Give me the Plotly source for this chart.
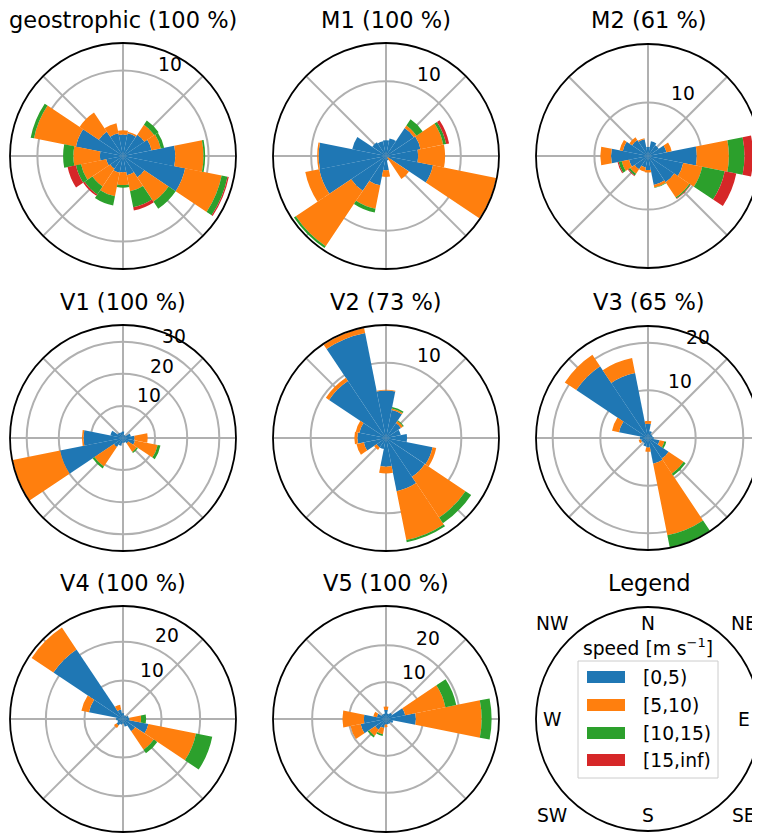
import math
import plotly.graph_objects as go

# ---------------- data ----------------
directions = ["N", "NNE", "NE", "ENE", "E", "ESE", "SE", "SSE",
              "S", "SSW", "SW", "WSW", "W", "WNW", "NW", "NNW"]
direction_deg = [0, 22.5, 45, 67.5, 90, 112.5, 135, 157.5,
                 180, 202.5, 225, 247.5, 270, 292.5, 315, 337.5]

speed_bins = ["[0,5)", "[5,10)", "[10,15)", "[15,inf)"]
bin_colors = ["#1f77b4", "#ff7f0e", "#2ca02c", "#d62728"]

# frequency (%) per direction sector, one list per speed class
geostrophic_0_5 = [2.5, 2.7, 3.0, 3.4, 6.1, 7.4, 3.0, 2.3, 1.9, 2.0, 1.8, 2.0, 2.7, 5.6, 3.4, 2.7]
geostrophic_5_10 = [0.5, 0.2, 1.4, 1.1, 3.3, 4.35, 3.4, 1.9, 1.5, 2.8, 2.5, 3.0, 3.1, 5.0, 2.7, 1.2]
geostrophic_10_15 = [0, 0, 0.6, 0.4, 0.2, 0.7, 1.0, 1.9, 0.3, 1.1, 1.1, 0.6, 1.2, 0.4, 0, 0]
geostrophic_15_inf = [0, 0, 0, 0, 0, 0.15, 0, 0.4, 0, 0, 0.2, 1.0, 0, 0, 0, 0]

m1_0_5 = [2.1, 2.4, 4.5, 4.7, 4.3, 6.4, 0.3, 0.6, 1.9, 4.0, 5.6, 9.1, 9.0, 4.6, 2.2, 2.0]
m1_5_10 = [0, 0, 0.4, 3.1, 3.6, 8.6, 3.4, 0, 0.9, 3.2, 8.9, 1.9, 0.2, 0, 0, 0]
m1_10_15 = [0, 0, 1.0, 0.4, 0, 0, 0, 0, 0, 0.5, 0.3, 0, 0, 0, 0, 0]
m1_15_inf = [0, 0, 0, 0.4, 0, 0, 0, 0, 0, 0, 0, 0, 0, 0, 0, 0]

m2_0_5 = [1.7, 2.8, 2.4, 3.5, 9.1, 6.7, 5.9, 5.5, 2.6, 2.2, 3.0, 3.6, 6.9, 4.8, 3.6, 3.2]
m2_5_10 = [0, 0, 0, 1.0, 6.0, 3.6, 3.4, 0.5, 0.5, 0.8, 1.0, 1.4, 2.0, 0.6, 0.6, 0.2]
m2_10_15 = [0, 0, 0, 0, 2.9, 4.3, 0.25, 0.1, 0, 0, 0.4, 0.6, 0, 0, 0, 0]
m2_15_inf = [0, 0, 0, 0, 1.6, 2.2, 0.1, 0, 0, 0, 0.15, 0.2, 0, 0, 0, 0]

v1_0_5 = [2.0, 1.0, 1.0, 2.5, 3.6, 3.8, 2.0, 1.5, 1.5, 2.5, 3.4, 20.0, 12.3, 4.0, 2.0, 1.8]
v1_5_10 = [0, 0, 0, 0, 4.1, 7.2, 3.2, 0, 0, 0, 7.3, 15.0, 0.5, 0, 0, 0]
v1_10_15 = [0, 0, 0, 0, 0, 0.9, 0.4, 0, 0, 0, 0.7, 0, 0, 0, 0, 0]
v1_15_inf = [0] * 16

v2_0_5 = [6.3, 3.8, 2.4, 2.0, 2.8, 6.3, 6.2, 7.2, 3.8, 1.5, 1.5, 3.0, 3.8, 3.6, 9.1, 14.2]
v2_5_10 = [0.1, 0.2, 0.3, 0, 0, 0.5, 6.5, 6.6, 0.9, 0, 0.4, 1.0, 0.4, 0.5, 0.5, 0.7]
v2_10_15 = [0, 0.2, 0.15, 0, 0, 0, 0.9, 0.3, 0, 0, 0, 0, 0, 0, 0, 0]
v2_15_inf = [0] * 16

v3_0_5 = [3.0, 1.5, 1.0, 1.0, 1.2, 2.5, 5.2, 5.5, 2.0, 1.8, 1.3, 1.5, 1.7, 6.2, 18.1, 13.9]
v3_5_10 = [0.6, 0, 0, 0, 0, 1.0, 3.8, 15.3, 0.9, 0, 0, 0.5, 0, 1.5, 2.9, 3.2]
v3_10_15 = [0, 0, 0, 0, 0, 0.4, 0.5, 2.6, 0, 0, 0, 0, 0, 0, 0, 0]
v3_15_inf = [0] * 16

v4_0_5 = [1.5, 1.0, 1.0, 1.5, 1.7, 6.7, 3.8, 2.0, 1.2, 1.5, 2.0, 1.5, 1.8, 9.0, 21.7, 2.5]
v4_5_10 = [0, 0, 0, 0, 3.0, 12.6, 5.8, 0, 0, 0, 0.8, 0, 0, 2.0, 6.8, 1.3]
v4_10_15 = [0, 0, 0, 0, 1.3, 4.3, 1.1, 0, 0, 0, 0, 0, 0, 0, 0, 0]
v4_15_inf = [0] * 16

v5_0_5 = [2.5, 1.5, 2.0, 5.3, 8.1, 2.0, 1.5, 1.5, 1.5, 2.5, 3.5, 7.0, 6.0, 2.5, 1.5, 1.5]
v5_5_10 = [0.9, 0, 0, 11.1, 17.8, 0, 0, 0, 0.7, 1.7, 2.0, 2.8, 5.8, 1.0, 0, 0]
v5_10_15 = [0, 0, 0, 3.0, 2.7, 0, 0, 0, 0, 0.5, 0.5, 0, 0, 0, 0, 0]
v5_15_inf = [0] * 16

rose_names = ["geostrophic", "M1", "M2", "V1", "V2", "V3", "V4", "V5"]
availability = [100, 100, 61, 100, 73, 65, 100, 100]
rose_bins = [
    [geostrophic_0_5, geostrophic_5_10, geostrophic_10_15, geostrophic_15_inf],
    [m1_0_5, m1_5_10, m1_10_15, m1_15_inf],
    [m2_0_5, m2_5_10, m2_10_15, m2_15_inf],
    [v1_0_5, v1_5_10, v1_10_15, v1_15_inf],
    [v2_0_5, v2_5_10, v2_10_15, v2_15_inf],
    [v3_0_5, v3_5_10, v3_10_15, v3_15_inf],
    [v4_0_5, v4_5_10, v4_10_15, v4_15_inf],
    [v5_0_5, v5_5_10, v5_10_15, v5_15_inf],
]
radial_max = [13.2, 15.1, 20.9, 35.2, 15.0, 23.5, 29.3, 30.6]
radial_ticks = [[10], [10], [10], [10, 20, 30], [10], [10, 20], [10, 20], [10, 20]]
rlabel_deg = 22.5  # compass angle at which radial tick labels sit

compass_labels = ["N", "NE", "E", "SE", "S", "SW", "W", "NW"]

# ---------------- layout geometry (page pixels) ----------------
PAGE_W, PAGE_H = 760, 834
OFF = 8                       # browser body margin around the figure div
W, H = PAGE_W - OFF, PAGE_H - OFF
col_cx = [123, 386, 649]
row_cy = [156, 438, 719]
R = 113
FONT = "DejaVu Sans"


def px(x):
    return (x - OFF) / W


def py(y):
    return 1 - (y - OFF) / H


fig = go.Figure()
layout = dict(
    width=W, height=H,
    margin=dict(l=0, r=0, t=0, b=0),
    paper_bgcolor="white",
    plot_bgcolor="white",
    showlegend=False,
    font=dict(family=FONT, color="black"),
)
annotations = []
shapes = []
centres = []

for i in range(9):
    row, col = divmod(i, 3)
    cx, cy = col_cx[col], row_cy[row]
    key = "polar" if i == 0 else f"polar{i + 1}"
    x0, x1 = px(cx - R), px(cx + R)
    if x1 > 1:
        x1 = 1.0
    # real centre / radius as plotly fits the circle in the domain
    dom_w = (x1 - x0) * W
    rad = min(dom_w, 2 * R) / 2
    ccx = OFF + (x0 * W + x1 * W) / 2
    centres.append((ccx, cy, rad))
    dom_y = [py(cy + R), py(cy - R)]
    if i < 8:
        for b in range(4):
            fig.add_trace(go.Barpolar(
                r=rose_bins[i][b], theta=direction_deg, width=22.5,
                marker=dict(color=bin_colors[b], line=dict(width=0)),
                name=speed_bins[b], subplot=key, showlegend=False,
                hovertemplate="%{theta}°: %{r}%<extra>" + speed_bins[b] + "</extra>",
            ))
        layout[key] = dict(
            domain=dict(x=[x0, x1], y=dom_y),
            bgcolor="white",
            barmode="stack",
            angularaxis=dict(
                rotation=90, direction="clockwise",
                tickmode="array", tickvals=[0, 45, 90, 135, 180, 225, 270, 315],
                showticklabels=False, ticks="",
                showgrid=True, gridcolor="#b0b0b0", gridwidth=1.5,
                showline=True, linecolor="black", linewidth=1.8,
            ),
            radialaxis=dict(
                range=[0, radial_max[i]],
                tickmode="array", tickvals=radial_ticks[i],
                ticks="", showline=False, showticklabels=False,
                showgrid=True, gridcolor="#b0b0b0", gridwidth=1.5,
            ),
        )
        # radial tick labels, placed like matplotlib's (at 22.5° from N)
        a = math.radians(rlabel_deg)
        for t in radial_ticks[i]:
            rp = rad * t / radial_max[i]
            annotations.append(dict(
                x=px(ccx + rp * math.sin(a)), y=py(cy - rp * math.cos(a)),
                xref="paper", yref="paper", text=str(t), showarrow=False,
                xanchor="left", yanchor="bottom",
                font=dict(size=18.7, family=FONT, color="black"),
            ))
        title = f"{rose_names[i]} ({availability[i]} %)"
    else:
        fig.add_trace(go.Scatterpolar(r=[0], theta=[0], mode="markers",
                                      marker=dict(size=1, color="white", opacity=0),
                                      subplot=key, showlegend=False, hoverinfo="skip"))
        layout[key] = dict(
            domain=dict(x=[x0, x1], y=dom_y),
            bgcolor="white",
            angularaxis=dict(showticklabels=False, ticks="", showgrid=False,
                             showline=True, linecolor="black", linewidth=1.8),
            radialaxis=dict(visible=False, range=[0, 1]),
        )
        title = "Legend"
    annotations.append(dict(
        x=px(cx), y=py(cy - R - 23), xref="paper", yref="paper",
        text=title, showarrow=False, xanchor="center", yanchor="middle",
        font=dict(size=22.5, family=FONT, color="black"),
    ))

# legend panel: compass labels around the last circle
lcx, lcy, _ = centres[8]
d = 96
compass_pos = {
    "N": (0, -d), "NE": (d, -d), "E": (d, 0), "SE": (d, d),
    "S": (0, d), "SW": (-d, d), "W": (-d, 0), "NW": (-d, -d),
}
for lab in compass_labels:
    dx, dy = compass_pos[lab]
    annotations.append(dict(
        x=px(lcx + dx), y=py(lcy + dy), xref="paper", yref="paper",
        text=lab, showarrow=False, xanchor="center", yanchor="middle",
        font=dict(size=18.7, family=FONT, color="black"),
    ))

# legend box with speed classes
annotations.append(dict(
    x=px(lcx), y=py(647), xref="paper", yref="paper",
    text="speed [m s<sup>−1</sup>]", showarrow=False, xanchor="center", yanchor="middle",
    font=dict(size=18.7, family=FONT, color="black"),
))
shapes.append(dict(type="rect", xref="paper", yref="paper",
                   x0=px(578), x1=px(718), y0=py(778), y1=py(661),
                   line=dict(color="#cccccc", width=1), fillcolor="white", layer="above"))
row_y = [677, 705, 733, 760]
for b, lab in enumerate(speed_bins):
    shapes.append(dict(type="rect", xref="paper", yref="paper",
                       x0=px(587), x1=px(625), y0=py(row_y[b] + 6), y1=py(row_y[b] - 6),
                       line=dict(width=0), fillcolor=bin_colors[b], layer="above"))
    annotations.append(dict(
        x=px(641), y=py(row_y[b]), xref="paper", yref="paper",
        text=lab, showarrow=False, xanchor="left", yanchor="middle",
        font=dict(size=18.7, family=FONT, color="black"),
    ))

layout["annotations"] = annotations
layout["shapes"] = shapes
fig.update_layout(**layout)
fig.write_html("out.html")
